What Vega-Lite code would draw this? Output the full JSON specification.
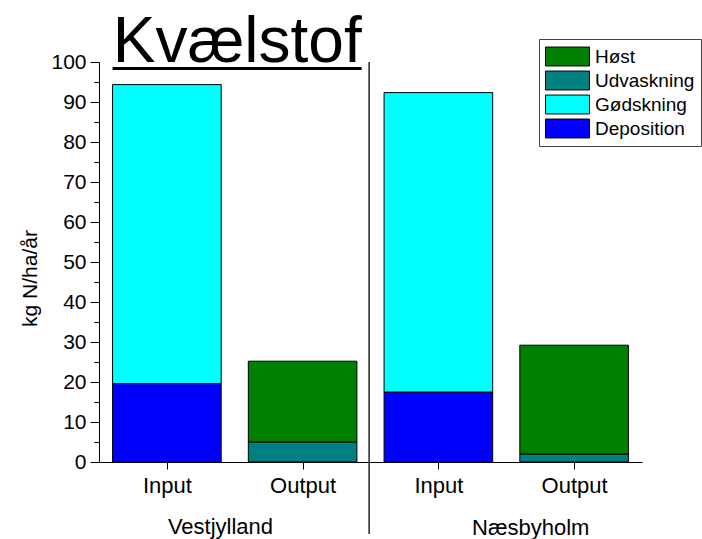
{
  "$schema": "https://vega.github.io/schema/vega-lite/v6.json",
  "width": 543,
  "height": 400,
  "autosize": {"type": "none"},
  "padding": {"left": 99, "top": 62, "right": 60, "bottom": 77},
  "background": "white",
  "config": {
    "view": {"stroke": null},
    "font": "Liberation Sans",
    "axis": {"grid": false, "domainColor": "black", "tickColor": "black", "labelColor": "black", "titleColor": "black", "labelFont": "Liberation Sans", "titleFont": "Liberation Sans"}
  },
  "resolve": {"scale": {"x": "independent"}},
  "layer": [
    {
      "data": {
        "values": [
          {"site": "Vestjylland", "flow": "Input", "component": "Deposition", "value": 19.6},
          {"site": "Vestjylland", "flow": "Input", "component": "Gødskning", "value": 74.75},
          {"site": "Vestjylland", "flow": "Output", "component": "Udvaskning", "value": 5.0},
          {"site": "Vestjylland", "flow": "Output", "component": "Høst", "value": 20.2},
          {"site": "Næsbyholm", "flow": "Input", "component": "Deposition", "value": 17.5},
          {"site": "Næsbyholm", "flow": "Input", "component": "Gødskning", "value": 74.85},
          {"site": "Næsbyholm", "flow": "Output", "component": "Udvaskning", "value": 2.0},
          {"site": "Næsbyholm", "flow": "Output", "component": "Høst", "value": 27.2}
        ]
      },
      "mark": {"type": "bar", "stroke": "black", "strokeWidth": 1},
      "encoding": {
        "x": {"field": "site", "type": "nominal", "sort": ["Vestjylland", "Næsbyholm"], "scale": {"paddingInner": 0, "paddingOuter": 0}, "axis": null},
        "xOffset": {"field": "flow", "type": "nominal", "sort": ["Input", "Output"], "scale": {"paddingInner": 0.2, "paddingOuter": 0.1}},
        "y": {
          "field": "value", "type": "quantitative", "stack": "zero",
          "scale": {"domain": [0, 100], "nice": false},
          "axis": {
            "title": "kg N/ha/år",
            "titleFontSize": 21, "titleFontWeight": "normal",
            "titleX": -62.5, "titleY": 216, "titleAngle": -90, "titleAlign": "center", "titleBaseline": "alphabetic",
            "values": [0, 5, 10, 15, 20, 25, 30, 35, 40, 45, 50, 55, 60, 65, 70, 75, 80, 85, 90, 95, 100],
            "labelExpr": "datum.value % 10 === 0 ? datum.label : ''",
            "labelFontSize": 21,
            "labelPadding": 4,
            "tickSize": {"condition": {"test": "datum.value % 10 === 0", "value": 9}, "value": 5},
            "tickWidth": 1,
            "domainWidth": 1,
            "labelFlush": false,
            "labelOverlap": false
          }
        },
        "color": {
          "field": "component", "type": "nominal",
          "scale": {"domain": ["Høst", "Udvaskning", "Gødskning", "Deposition"], "range": ["#008000", "#008080", "#00FFFF", "#0000FF"]},
          "legend": {
            "title": null,
            "orient": "none",
            "legendX": 440,
            "legendY": -23,
            "symbolType": "M-2,-0.86H2V0.86H-2Z",
            "symbolSize": 484,
            "symbolOffset": 11,
            "symbolStrokeColor": "black",
            "symbolStrokeWidth": 1,
            "symbolOpacity": 1,
            "labelFontSize": 19,
            "labelFont": "Liberation Sans",
            "labelColor": "black",
            "labelOffset": 16,
            "labelLimit": 300,
            "rowPadding": 1,
            "padding": 6,
            "strokeColor": "#444",
            "fillColor": "white"
          }
        },
        "order": {"field": "value", "type": "quantitative", "sort": "ascending"}
      }
    },
    {
      "layer": [
        {
          "data": {"values": [{}]},
          "mark": {"type": "rule", "color": "#222", "strokeWidth": 1.5},
          "encoding": {
            "x": {"datum": 2.49, "type": "quantitative", "scale": {"domain": [0.5, 4.5], "nice": false, "zero": false},
              "axis": {"values": [1, 2, 3, 4], "labelExpr": "datum.value % 2 === 1 ? 'Input' : 'Output'", "labelFontSize": 22, "labelPadding": 6, "tickSize": 7, "title": null, "labelFlush": false, "labelOverlap": false}
            },
            "y": {"datum": 100, "type": "quantitative", "scale": {"domain": [0, 100], "nice": false},
              "axis": {"title": "kg N/ha/år", "titleFontSize": 21, "titleFontWeight": "normal", "titleX": -62.5, "titleY": 216, "titleAngle": -90, "titleAlign": "center", "titleBaseline": "alphabetic", "values": [0, 5, 10, 15, 20, 25, 30, 35, 40, 45, 50, 55, 60, 65, 70, 75, 80, 85, 90, 95, 100], "labelExpr": "datum.value % 10 === 0 ? datum.label : ''", "labelFontSize": 21, "labelPadding": 4, "tickSize": {"condition": {"test": "datum.value % 10 === 0", "value": 9}, "value": 5}, "tickWidth": 1, "domainWidth": 1, "labelFlush": false, "labelOverlap": false}
            },
            "y2": {"datum": -18}
          }
        },
        {
          "data": {"values": [{}]},
          "mark": {"type": "rule", "color": "black", "strokeWidth": 3},
          "encoding": {
            "x": {"datum": 0.6, "type": "quantitative", "scale": {"domain": [0.5, 4.5], "nice": false, "zero": false},
              "axis": {"values": [1, 2, 3, 4], "labelExpr": "datum.value % 2 === 1 ? 'Input' : 'Output'", "labelFontSize": 22, "labelPadding": 6, "tickSize": 7, "title": null, "labelFlush": false, "labelOverlap": false}
            },
            "x2": {"datum": 2.435},
            "y": {"datum": 98.35, "type": "quantitative", "scale": {"domain": [0, 100], "nice": false},
              "axis": {"title": "kg N/ha/år", "titleFontSize": 21, "titleFontWeight": "normal", "titleX": -62.5, "titleY": 216, "titleAngle": -90, "titleAlign": "center", "titleBaseline": "alphabetic", "values": [0, 5, 10, 15, 20, 25, 30, 35, 40, 45, 50, 55, 60, 65, 70, 75, 80, 85, 90, 95, 100], "labelExpr": "datum.value % 10 === 0 ? datum.label : ''", "labelFontSize": 21, "labelPadding": 4, "tickSize": {"condition": {"test": "datum.value % 10 === 0", "value": 9}, "value": 5}, "tickWidth": 1, "domainWidth": 1, "labelFlush": false, "labelOverlap": false}
            }
          }
        },
        {
          "data": {"values": [{"text": "Kvælstof"}]},
          "mark": {"type": "text", "fontSize": 64, "align": "center", "baseline": "alphabetic", "font": "Liberation Sans", "color": "black"},
          "encoding": {
            "x": {"datum": 1.518, "type": "quantitative", "scale": {"domain": [0.5, 4.5], "nice": false, "zero": false},
              "axis": {"values": [1, 2, 3, 4], "labelExpr": "datum.value % 2 === 1 ? 'Input' : 'Output'", "labelFontSize": 22, "labelPadding": 6, "tickSize": 7, "title": null, "labelFlush": false, "labelOverlap": false}
            },
            "y": {"datum": 100, "type": "quantitative", "scale": {"domain": [0, 100], "nice": false},
              "axis": {"title": "kg N/ha/år", "titleFontSize": 21, "titleFontWeight": "normal", "titleX": -62.5, "titleY": 216, "titleAngle": -90, "titleAlign": "center", "titleBaseline": "alphabetic", "values": [0, 5, 10, 15, 20, 25, 30, 35, 40, 45, 50, 55, 60, 65, 70, 75, 80, 85, 90, 95, 100], "labelExpr": "datum.value % 10 === 0 ? datum.label : ''", "labelFontSize": 21, "labelPadding": 4, "tickSize": {"condition": {"test": "datum.value % 10 === 0", "value": 9}, "value": 5}, "tickWidth": 1, "domainWidth": 1, "labelFlush": false, "labelOverlap": false}
            },
            "text": {"field": "text"}
          }
        },
        {
          "data": {"values": [{"text": "Vestjylland"}]},
          "mark": {"type": "text", "fontSize": 22, "align": "center", "baseline": "alphabetic", "font": "Liberation Sans", "color": "black"},
          "encoding": {
            "x": {"datum": 1.395, "type": "quantitative", "scale": {"domain": [0.5, 4.5], "nice": false, "zero": false},
              "axis": {"values": [1, 2, 3, 4], "labelExpr": "datum.value % 2 === 1 ? 'Input' : 'Output'", "labelFontSize": 22, "labelPadding": 6, "tickSize": 7, "title": null, "labelFlush": false, "labelOverlap": false}
            },
            "y": {"datum": -18.0, "type": "quantitative", "scale": {"domain": [0, 100], "nice": false},
              "axis": {"title": "kg N/ha/år", "titleFontSize": 21, "titleFontWeight": "normal", "titleX": -62.5, "titleY": 216, "titleAngle": -90, "titleAlign": "center", "titleBaseline": "alphabetic", "values": [0, 5, 10, 15, 20, 25, 30, 35, 40, 45, 50, 55, 60, 65, 70, 75, 80, 85, 90, 95, 100], "labelExpr": "datum.value % 10 === 0 ? datum.label : ''", "labelFontSize": 21, "labelPadding": 4, "tickSize": {"condition": {"test": "datum.value % 10 === 0", "value": 9}, "value": 5}, "tickWidth": 1, "domainWidth": 1, "labelFlush": false, "labelOverlap": false}
            },
            "text": {"field": "text"}
          }
        },
        {
          "data": {"values": [{"text": "Næsbyholm"}]},
          "mark": {"type": "text", "fontSize": 22, "align": "center", "baseline": "alphabetic", "font": "Liberation Sans", "color": "black"},
          "encoding": {
            "x": {"datum": 3.68, "type": "quantitative", "scale": {"domain": [0.5, 4.5], "nice": false, "zero": false},
              "axis": {"values": [1, 2, 3, 4], "labelExpr": "datum.value % 2 === 1 ? 'Input' : 'Output'", "labelFontSize": 22, "labelPadding": 6, "tickSize": 7, "title": null, "labelFlush": false, "labelOverlap": false}
            },
            "y": {"datum": -18.3, "type": "quantitative", "scale": {"domain": [0, 100], "nice": false},
              "axis": {"title": "kg N/ha/år", "titleFontSize": 21, "titleFontWeight": "normal", "titleX": -62.5, "titleY": 216, "titleAngle": -90, "titleAlign": "center", "titleBaseline": "alphabetic", "values": [0, 5, 10, 15, 20, 25, 30, 35, 40, 45, 50, 55, 60, 65, 70, 75, 80, 85, 90, 95, 100], "labelExpr": "datum.value % 10 === 0 ? datum.label : ''", "labelFontSize": 21, "labelPadding": 4, "tickSize": {"condition": {"test": "datum.value % 10 === 0", "value": 9}, "value": 5}, "tickWidth": 1, "domainWidth": 1, "labelFlush": false, "labelOverlap": false}
            },
            "text": {"field": "text"}
          }
        }
      ]
    }
  ]
}
